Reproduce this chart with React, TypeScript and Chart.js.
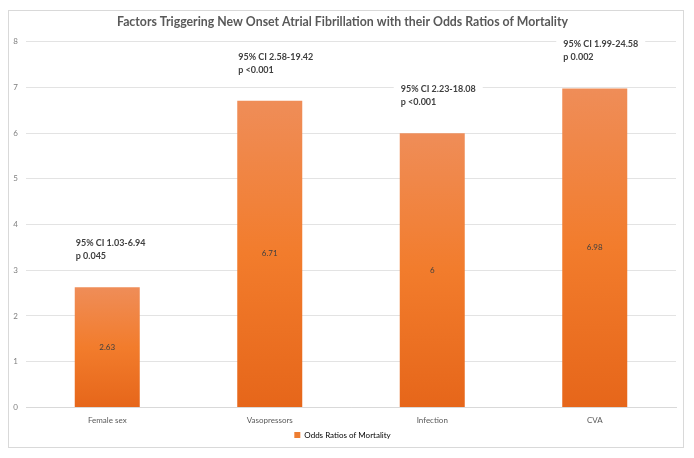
import React, { useEffect, useRef } from "react";
import { Chart, registerables } from "chart.js";

Chart.register(...registerables);

const title = "Factors Triggering New Onset Atrial Fibrillation with their Odds Ratios of Mortality";
const categories = ["Female sex", "Vasopressors", "Infection", "CVA"];
const oddsRatios = [2.63, 6.71, 6, 6.98];
const valueLabels = ["2.63", "6.71", "6", "6.98"];
const ciLabels = ["95% CI 1.03-6.94", "95% CI 2.58-19.42", "95% CI 2.23-18.08", "95% CI 1.99-24.58"];
const pLabels = ["p 0.045", "p <0.001", "p <0.001", "p 0.002"];
const seriesName = "Odds Ratios of Mortality";
const yTicks = [0, 1, 2, 3, 4, 5, 6, 7, 8];

const FONT = "Lato, 'Open Sans', 'Liberation Sans', sans-serif";

const annotationPlugin = {
  id: "annotations",
  afterDatasetsDraw(chart: any) {
    const ctx = chart.ctx;
    const meta = chart.getDatasetMeta(0);
    ctx.save();
    meta.data.forEach((bar: any, i: number) => {
      const left = bar.x - bar.width / 2;
      ctx.fillStyle = "#404040";
      ctx.font = `8px ${FONT}`;
      ctx.textAlign = "center";
      ctx.textBaseline = "middle";
      ctx.fillText(valueLabels[i], bar.x, (bar.y + bar.base) / 2);
      ctx.font = `bold 9px ${FONT}`;
      const w = Math.max(ctx.measureText(ciLabels[i]).width, ctx.measureText(pLabels[i]).width);
      const y1 = bar.y - 44;
      const y2 = bar.y - 31;
      ctx.fillStyle = "#ffffff";
      ctx.fillRect(left - 6, y1 - 9, w + 14, 34);
      ctx.fillStyle = "#404040";
      ctx.textAlign = "left";
      ctx.fillText(ciLabels[i], left + 1, y1);
      ctx.fillText(pLabels[i], left + 1, y2);
    });
    ctx.restore();
  },
};

function barGradient(context: any) {
  const chart = context.chart;
  const yScale = chart.scales && chart.scales.y;
  if (!yScale || !chart.chartArea) return "#ED7D31";
  const v = context.raw as number;
  const top = yScale.getPixelForValue(v);
  const bottom = yScale.getPixelForValue(0);
  if (!isFinite(top) || !isFinite(bottom) || top === bottom) return "#ED7D31";
  const g = chart.ctx.createLinearGradient(0, top, 0, bottom);
  g.addColorStop(0, "#EF8D58");
  g.addColorStop(0.5, "#F27C2C");
  g.addColorStop(1, "#E6661A");
  return g;
}

export default function App() {
  const ref = useRef<HTMLCanvasElement | null>(null);
  useEffect(() => {
    if (!ref.current) return;
    const chart = new Chart(ref.current, {
      type: "bar",
      data: {
        labels: categories,
        datasets: [
          {
            label: seriesName,
            data: oddsRatios,
            backgroundColor: barGradient,
            borderWidth: 0,
            categoryPercentage: 1,
            barPercentage: 0.4,
          },
        ],
      },
      options: {
        animation: false,
        responsive: true,
        maintainAspectRatio: false,
        layout: { autoPadding: false, padding: { left: 0, right: 7, top: 4, bottom: -2 } },
        plugins: {
          title: {
            display: true,
            text: title,
            color: "#595959",
            font: { family: FONT, size: 12.3, weight: "bold" },
            padding: { top: 0, bottom: 12 },
          },
          legend: {
            display: true,
            position: "bottom",
            labels: {
              color: "#595959",
              font: { family: FONT, size: 8 },
              boxWidth: 6,
              boxHeight: 6,
              padding: 2,
              generateLabels: () => [
                {
                  text: seriesName,
                  fillStyle: "#ED7D31",
                  strokeStyle: "#ED7D31",
                  lineWidth: 0,
                  hidden: false,
                  datasetIndex: 0,
                },
              ],
            },
          },
          tooltip: { enabled: false },
        },
        scales: {
          x: {
            grid: { display: false, tickLength: 0 },
            border: { color: "#d9d9d9" },
            ticks: { color: "#595959", font: { family: FONT, size: 8 }, padding: 8 },
            afterFit: (axis: any) => {
              axis.height = axis.height - 4;
            },
          },
          y: {
            min: 0,
            max: 8,
            afterBuildTicks: (axis: any) => {
              axis.ticks = yTicks.map((v) => ({ value: v }));
            },
            afterFit: (axis: any) => {
              axis.width = 17;
            },
            grid: { color: "#e3e3e3", drawTicks: false },
            border: { display: false },
            ticks: { color: "#7f7f7f", font: { family: FONT, size: 8 }, padding: 8 },
          },
        },
      },
      plugins: [annotationPlugin],
    });
    return () => chart.destroy();
  }, []);
  return (
    <div
      style={{
        marginTop: 2,
        width: 676,
        height: 438,
        boxSizing: "border-box",
        border: "1px solid #d9d9d9",
        background: "#fff",
      }}
    >
      <div style={{ position: "relative", width: 674, height: 436 }}>
        <canvas ref={ref} />
      </div>
    </div>
  );
}
